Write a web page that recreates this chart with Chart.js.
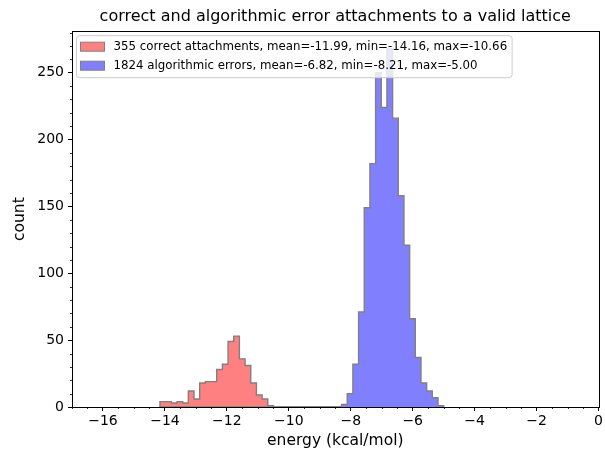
<!DOCTYPE html>
<html>
<head>
<meta charset="utf-8">
<script src="https://cdn.jsdelivr.net/npm/chart.js@4"></script>
<style>
  html, body { margin: 0; padding: 0; background: #fff; }
  #wrap { width: 605px; height: 452px; }
</style>
</head>
<body>
<div id="wrap"><canvas id="histChart"></canvas></div>
<script>
/* ==========================================
   DATA
========================================== */

/* shared bins for both histograms */
const binStart = -14.16;
const binWidth = 0.1832;
const binCount = 50;

/* correct attachments, starting at bin 0 */
const correctCounts = [4, 4, 3, 4, 3, 12, 6, 18, 19, 19, 28, 32, 49, 53, 36, 31, 18, 9, 6, 1];
const correctFirstBin = 0;

/* algorithmic errors, starting at bin 32 */
const errorCounts = [2, 10, 32, 71, 149, 182, 250, 224, 268, 216, 158, 121, 66, 37, 18, 12, 7, 1];
const errorFirstBin = 32;

const seriesLabels = [
  "355 correct attachments, mean=-11.99, min=-14.16, max=-10.66",
  "1824 algorithmic errors, mean=-6.82, min=-8.21, max=-5.00"
];

const FONT = '"DejaVu Sans", sans-serif';

/* ==========================================
   STEP OUTLINE FROM BIN COUNTS
========================================== */

function stepPoints(counts, firstBin) {
  const full = new Array(binCount).fill(0);
  counts.forEach((c, i) => { full[firstBin + i] = c; });

  const lastEdge = binStart + binCount * binWidth;
  const pts = [{ x: binStart, y: 0 }];
  full.forEach((c, i) => pts.push({ x: binStart + i * binWidth, y: c }));
  pts.push({ x: lastEdge, y: full[binCount - 1] });
  pts.push({ x: lastEdge, y: 0 });
  return pts;
}

/* ==========================================
   MINOR TICKS, FRAME, LEGEND
========================================== */

const decorPlugin = {
  id: "decor",
  afterDatasetsDraw(chart) {
    const ctx = chart.ctx;
    const area = chart.chartArea;
    const xs = chart.scales.x;
    const ys = chart.scales.y;

    ctx.save();
    ctx.strokeStyle = "#000";
    ctx.lineWidth = 0.8;

    /* minor ticks */
    ctx.beginPath();
    for (let v = -17; v <= 0; v += 0.5) {
      if (v % 2 === 0) continue;
      const px = Math.round(xs.getPixelForValue(v)) + 0.5;
      ctx.moveTo(px, area.bottom);
      ctx.lineTo(px, area.bottom + 2);
    }
    for (let v = 10; v <= 280; v += 10) {
      if (v % 50 === 0) continue;
      const py = Math.round(ys.getPixelForValue(v)) + 0.5;
      ctx.moveTo(area.left, py);
      ctx.lineTo(area.left - 2, py);
    }
    ctx.stroke();

    /* frame */
    ctx.lineWidth = 1;
    ctx.strokeRect(Math.round(area.left) + 0.5, Math.round(area.top) + 0.5,
      Math.round(area.right - area.left), Math.round(area.bottom - area.top));

    /* legend */
    ctx.font = "11.8px " + FONT;
    const textW = Math.max(...seriesLabels.map(t => ctx.measureText(t).width));
    const bx = area.left + 4.5;
    const by = area.top + 4.5;
    const bw = 37 + textW + 5;
    const bh = 42;

    ctx.beginPath();
    ctx.roundRect(bx, by, bw, bh, 3);
    ctx.fillStyle = "rgba(255,255,255,0.8)";
    ctx.fill();
    ctx.strokeStyle = "#cccccc";
    ctx.stroke();

    const fills = ["#ff8080", "#8080ff"];
    ctx.textBaseline = "middle";
    seriesLabels.forEach((label, i) => {
      const cy = by + 11 + i * 19;
      ctx.fillStyle = fills[i];
      ctx.fillRect(bx + 4, cy - 4.5, 24, 9);
      ctx.strokeStyle = "#808080";
      ctx.strokeRect(bx + 4, cy - 4.5, 24, 9);
      ctx.fillStyle = "#000";
      ctx.fillText(label, bx + 37, cy + 0.5);
    });

    ctx.restore();
  }
};

/* ==========================================
   HISTOGRAM CHART
========================================== */

new Chart(
  document.getElementById("histChart"),
  {
    type: "line",

    data: {
      datasets: [
        {
          label: seriesLabels[0],
          data: stepPoints(correctCounts, correctFirstBin),
          stepped: "before",
          fill: "origin",
          backgroundColor: "#ff8080",
          borderColor: "#808080",
          borderWidth: 1.4,
          pointRadius: 0,
          order: 2
        },
        {
          label: seriesLabels[1],
          data: stepPoints(errorCounts, errorFirstBin),
          stepped: "before",
          fill: "origin",
          backgroundColor: "#8080ff",
          borderColor: "#808080",
          borderWidth: 1.4,
          pointRadius: 0,
          order: 1
        }
      ]
    },

    options: {
      responsive: true,
      maintainAspectRatio: false,
      animation: false,
      layout: { padding: { left: 0, right: 0, top: 0, bottom: 0 } },

      plugins: {
        legend: { display: false },
        tooltip: { enabled: false },
        title: {
          display: true,
          fullSize: false,
          text: "correct and algorithmic error attachments to a valid lattice",
          color: "#000",
          font: { family: FONT, size: 16, weight: "normal" },
          padding: { top: 7, bottom: 5 }
        }
      },

      scales: {
        x: {
          type: "linear",
          min: -17,
          max: 0,
          afterFit: (scale) => { scale.height = 45; },
          border: { display: false },
          grid: { drawOnChartArea: false, drawTicks: true, tickLength: 4, color: "#000", lineWidth: 1 },
          ticks: {
            stepSize: 2,
            includeBounds: false,
            maxRotation: 0,
            padding: 2,
            color: "#000",
            font: { family: FONT, size: 14 },
            callback: (v) => (v < 0 ? "\u2212" + Math.abs(v) : String(v))
          },
          title: {
            display: true,
            text: "energy (kcal/mol)",
            color: "#000",
            font: { family: FONT, size: 15.5 },
            padding: { top: 0, bottom: 2 }
          }
        },
        y: {
          min: 0,
          max: 281,
          afterFit: (scale) => { scale.width = 72; },
          border: { display: false },
          grid: { drawOnChartArea: false, drawTicks: true, tickLength: 4, color: "#000", lineWidth: 1 },
          ticks: {
            stepSize: 50,
            includeBounds: false,
            padding: 4,
            color: "#000",
            font: { family: FONT, size: 14 }
          },
          title: {
            display: true,
            text: "count",
            color: "#000",
            font: { family: FONT, size: 15.5 },
            padding: { top: 11, bottom: 0 }
          }
        }
      }
    },

    plugins: [decorPlugin]
  }
);
</script>
</body>
</html>
